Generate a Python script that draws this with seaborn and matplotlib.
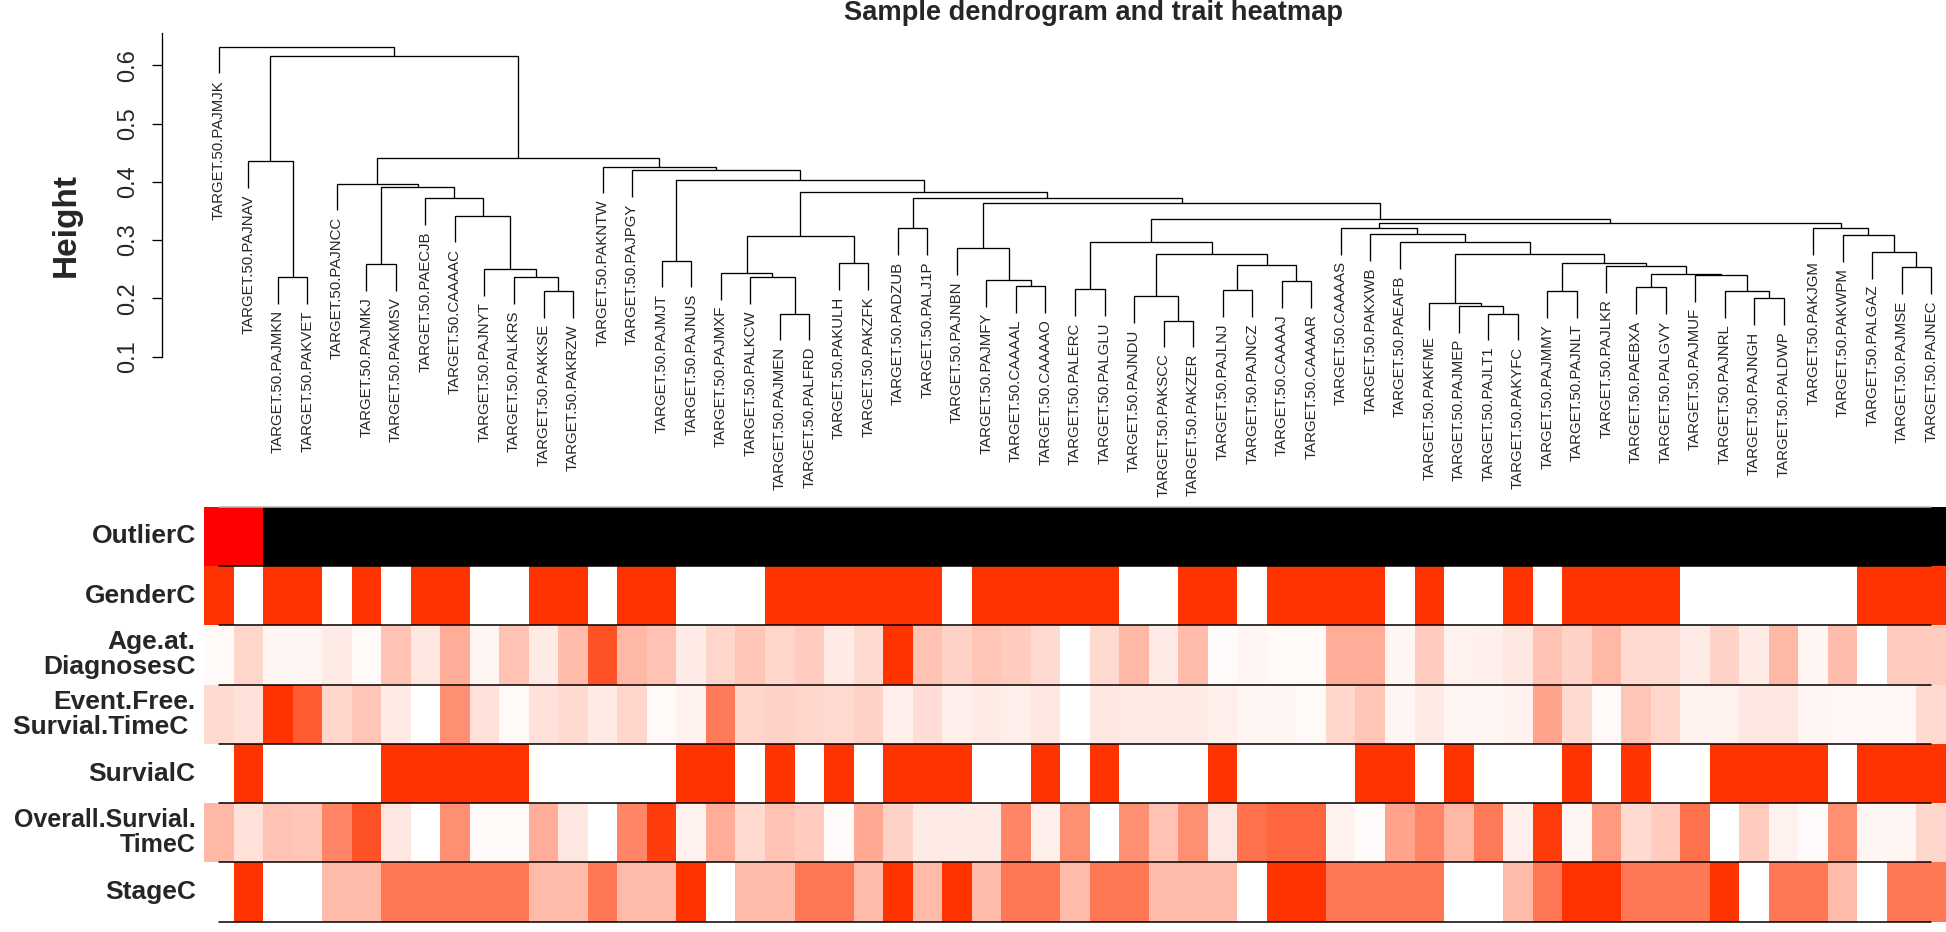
import numpy as np
import pandas as pd
import matplotlib
matplotlib.use("Agg")
import matplotlib.pyplot as plt
import seaborn as sns
from matplotlib.colors import LinearSegmentedColormap, ListedColormap

sns.set_theme(style="white")
plt.rcParams['font.family'] = ['Liberation Sans', 'DejaVu Sans']

# ---------------- data ----------------
prefix = "TARGET.50."
leaves = ["PAJMJK", "PAJNAV", "PAJMKN", "PAKVET", "PAJNCC", "PAJMKJ", "PAKMSV", "PAECJB",
          "CAAAAC", "PAJNYT", "PALKRS", "PAKKSE", "PAKRZW", "PAKNTW", "PAJPGY", "PAJMJT",
          "PAJNUS", "PAJMXF", "PALKCW", "PAJMEN", "PALFRD", "PAKULH", "PAKZFK", "PADZUB",
          "PALJ1P", "PAJNBN", "PAJMFY", "CAAAAL", "CAAAAO", "PALERC", "PALGLU", "PAJNDU",
          "PAKSCC", "PAKZER", "PAJLNJ", "PAJNCZ", "CAAAAJ", "CAAAAR", "CAAAAS", "PAKXWB",
          "PAEAFB", "PAKFME", "PAJMEP", "PAJLT1", "PAKYFC", "PAJMMY", "PAJNLT", "PAJLKR",
          "PAEBXA", "PALGVY", "PAJMUF", "PAJNRL", "PAJNGH", "PALDWP", "PAKJGM", "PAKWPM",
          "PALGAZ", "PAJMSE", "PAJNEC"]

# merges: (cluster name, left child, right child, merge height)
merges = [
    ("m1", "PAJMKN", "PAKVET", 0.237),
    ("mA", "PAJNAV", "m1", 0.436),
    ("kjsv", "PAJMKJ", "PAKMSV", 0.259),
    ("b6", "PAKKSE", "PAKRZW", 0.213),
    ("b5", "PALKRS", "b6", 0.236),
    ("b4", "PAJNYT", "b5", 0.250),
    ("b3", "CAAAAC", "b4", 0.342),
    ("b2", "PAECJB", "b3", 0.372),
    ("b1", "kjsv", "b2", 0.391),
    ("B", "PAJNCC", "b1", 0.397),
    ("jt", "PAJMJT", "PAJNUS", 0.265),
    ("enfrd", "PAJMEN", "PALFRD", 0.174),
    ("kcw", "PALKCW", "enfrd", 0.237),
    ("mxf", "PAJMXF", "kcw", 0.244),
    ("ulh", "PAKULH", "PAKZFK", 0.260),
    ("c3l", "mxf", "ulh", 0.307),
    ("dz", "PADZUB", "PALJ1P", 0.320),
    ("aal", "CAAAAL", "CAAAAO", 0.221),
    ("mfy", "PAJMFY", "aal", 0.232),
    ("c6", "PAJNBN", "mfy", 0.286),
    ("erc", "PALERC", "PALGLU", 0.216),
    ("scc", "PAKSCC", "PAKZER", 0.162),
    ("ndu", "PAJNDU", "scc", 0.204),
    ("lnj", "PAJLNJ", "PAJNCZ", 0.214),
    ("aaj", "CAAAAJ", "CAAAAR", 0.230),
    ("c10", "lnj", "aaj", 0.257),
    ("c9", "ndu", "c10", 0.276),
    ("c8", "erc", "c9", 0.296),
    ("lt1", "PAJLT1", "PAKYFC", 0.174),
    ("mep", "PAJMEP", "lt1", 0.187),
    ("c16", "PAKFME", "mep", 0.192),
    ("mmy", "PAJMMY", "PAJNLT", 0.213),
    ("bxa", "PAEBXA", "PALGVY", 0.219),
    ("ngh", "PAJNGH", "PALDWP", 0.200),
    ("c21", "PAJNRL", "ngh", 0.213),
    ("c20", "PAJMUF", "c21", 0.240),
    ("c19", "bxa", "c20", 0.242),
    ("c18", "PAJLKR", "c19", 0.256),
    ("c17", "mmy", "c18", 0.261),
    ("c15", "c16", "c17", 0.277),
    ("c14", "PAEAFB", "c15", 0.296),
    ("c13", "PAKXWB", "c14", 0.310),
    ("c12", "CAAAAS", "c13", 0.321),
    ("mse", "PAJMSE", "PAJNEC", 0.253),
    ("c24", "PALGAZ", "mse", 0.280),
    ("c23", "PAKWPM", "c24", 0.309),
    ("c22", "PAKJGM", "c23", 0.321),
    ("c11", "c12", "c22", 0.330),
    ("c7", "c8", "c11", 0.336),
    ("c5", "c6", "c7", 0.364),
    ("c4", "dz", "c5", 0.372),
    ("c3", "c3l", "c4", 0.383),
    ("c2", "jt", "c3", 0.403),
    ("c1", "PAJPGY", "c2", 0.420),
    ("C", "PAKNTW", "c1", 0.426),
    ("big", "B", "C", 0.441),
    ("top2", "mA", "big", 0.616),
    ("root", "PAJMJK", "top2", 0.632),
]

height_ticks = [0.1, 0.2, 0.3, 0.4, 0.5, 0.6]

outlier = [1, 1] + [0] * 57
gender = [1, 0, 1, 1, 0, 1, 0, 1, 1, 0, 0, 1, 1, 0, 1, 1, 0, 0, 0, 1, 1, 1, 1, 1, 1, 0, 1, 1, 1, 1,
          1, 0, 0, 1, 1, 0, 1, 1, 1, 1, 0, 1, 0, 0, 1, 0, 1, 1, 1, 1, 0, 0, 0, 0, 0, 0, 1, 1, 1]
age = [0.03, 0.2, 0.05, 0.05, 0.1, 0.03, 0.3, 0.12, 0.4, 0.05, 0.3, 0.1, 0.33, 0.85, 0.35, 0.3,
       0.1, 0.2, 0.28, 0.2, 0.25, 0.1, 0.18, 1.0, 0.3, 0.22, 0.28, 0.25, 0.18, 0.0, 0.18, 0.35,
       0.1, 0.33, 0.02, 0.05, 0.03, 0.03, 0.4, 0.4, 0.05, 0.25, 0.07, 0.08, 0.12, 0.3, 0.22, 0.35,
       0.18, 0.18, 0.1, 0.22, 0.1, 0.35, 0.05, 0.33, 0.0, 0.25, 0.25]
event_free = [0.18, 0.15, 1.0, 0.8, 0.2, 0.28, 0.1, 0.0, 0.55, 0.15, 0.03, 0.15, 0.18, 0.1, 0.2,
              0.03, 0.07, 0.65, 0.2, 0.22, 0.2, 0.18, 0.22, 0.08, 0.17, 0.08, 0.1, 0.08, 0.12, 0.0,
              0.12, 0.1, 0.1, 0.1, 0.08, 0.05, 0.05, 0.03, 0.2, 0.28, 0.05, 0.1, 0.05, 0.05, 0.07,
              0.45, 0.18, 0.03, 0.28, 0.2, 0.07, 0.07, 0.12, 0.12, 0.05, 0.04, 0.04, 0.04, 0.18]
survival = [0, 1, 0, 0, 0, 0, 1, 1, 1, 1, 1, 0, 0, 0, 0, 0, 1, 1, 0, 1, 0, 1, 0, 1, 1, 1, 0, 0, 1, 0,
            1, 0, 0, 0, 1, 0, 0, 0, 0, 1, 1, 0, 1, 0, 0, 0, 1, 0, 1, 0, 0, 1, 1, 1, 1, 0, 1, 1, 1]
overall = [0.35, 0.15, 0.3, 0.28, 0.6, 0.85, 0.12, 0.0, 0.55, 0.03, 0.03, 0.4, 0.12, 0.0, 0.6, 0.95,
           0.07, 0.4, 0.18, 0.3, 0.25, 0.02, 0.42, 0.22, 0.1, 0.1, 0.1, 0.6, 0.08, 0.55, 0.0, 0.55,
           0.3, 0.55, 0.12, 0.7, 0.75, 0.75, 0.07, 0.02, 0.45, 0.6, 0.35, 0.65, 0.08, 0.95, 0.05,
           0.5, 0.18, 0.25, 0.7, 0.0, 0.25, 0.07, 0.02, 0.55, 0.05, 0.05, 0.2]
stage = [1, 4, 1, 1, 2, 2, 3, 3, 3, 3, 3, 2, 2, 3, 2, 2, 4, 1, 2, 2, 3, 3, 2, 4, 2, 4, 2, 3, 3, 2,
         3, 3, 2, 2, 2, 1, 4, 4, 3, 3, 3, 3, 1, 1, 2, 3, 4, 4, 3, 3, 3, 4, 1, 3, 3, 2, 1, 3, 3]

row_labels = ["OutlierC", "GenderC", "Age.at.\nDiagnosesC", "Event.Free.\nSurvial.TimeC ",
              "SurvialC", "Overall.Survial.\nTimeC", "StageC"]

# ---------------- figure ----------------
W, H = 1946, 932
fig = plt.figure(figsize=(W / 100, H / 100), dpi=100)
n = len(leaves)

def fx(px):
    return px / W

def fy(py):
    return 1 - py / H

HM_L, HM_R = 204, 1946
# vertical calibration of the dendrogram (pixel -> height)
def h_at(py):
    return 0.6 - (py - 65.3) / 582.7

DEN_BOTTOM = 500
dax = fig.add_axes([fx(HM_L), fy(DEN_BOTTOM), fx(HM_R - HM_L), DEN_BOTTOM / H])
dax.set_xlim(0, n)
dax.set_ylim(h_at(DEN_BOTTOM), h_at(0))

hang = 0.046
gap = 0.011
pos = {name: i + 0.5 for i, name in enumerate(leaves)}
hgt = {}
for name, a, b, h in merges:
    xa, xb = pos[a], pos[b]
    ya = hgt.get(a, h - hang)
    yb = hgt.get(b, h - hang)
    dax.plot([xa, xa, xb, xb], [ya, h, h, yb], color="black", lw=0.95,
             solid_capstyle="butt", solid_joinstyle="miter")
    for child, y in ((a, ya), (b, yb)):
        if child not in hgt:
            dax.text(pos[child], y - gap, prefix + child, rotation=90, ha="center",
                     va="top", fontsize=10.8)
    pos[name] = (xa + xb) / 2
    hgt[name] = h

for s in ["top", "right", "bottom"]:
    dax.spines[s].set_visible(False)
dax.spines["left"].set_visible(True)
dax.spines["left"].set_color("black")
dax.spines["left"].set_linewidth(0.95)
dax.spines["left"].set_position(("outward", 30.2))
dax.spines["left"].set_bounds(0.1, 0.655)
dax.set_xticks([])
dax.set_yticks(height_ticks)
dax.set_yticklabels([f"{t:.1f}" for t in height_ticks], rotation=90, va="center")
dax.tick_params(axis="y", left=True, length=7.5, width=0.95, color="black",
                labelsize=17, pad=9)
dax.grid(False)

fig.text(fx(66.7), fy(225), "Height", rotation=90, ha="center", va="center",
         fontsize=24, fontweight="bold")
fig.text(fx(1094), fy(13), "Sample dendrogram and trait heatmap", ha="center",
         va="center", fontsize=19.6, fontweight="bold")

# ---------------- trait heatmap ----------------
stage_scaled = [(s - min(stage)) / (max(stage) - min(stage)) for s in stage]
traits = pd.DataFrame([outlier, gender, age, event_free, survival, overall, stage_scaled],
                      index=row_labels, columns=[prefix + l for l in leaves])

white_red = LinearSegmentedColormap.from_list("wr", ["#FFFFFF", "#FF3300"])
outlier_cmap = ListedColormap(["#000000", "#FF0000"])

ROW_TOP, ROW_H = 506.7, 59.29
nrows = len(row_labels)
for r, label in enumerate(row_labels):
    top = ROW_TOP + r * ROW_H
    ax = fig.add_axes([fx(HM_L), fy(top + ROW_H), fx(HM_R - HM_L), ROW_H / H])
    cmap = outlier_cmap if r == 0 else white_red
    sns.heatmap(traits.loc[[label]], ax=ax, cmap=cmap, vmin=0, vmax=1, cbar=False,
                xticklabels=False, yticklabels=True, linewidths=0)
    size = 18.0 if label.startswith("Overall") else 19.0
    ax.set_yticklabels([label], rotation=0, fontsize=size, fontweight="bold",
                       ha="right", va="center", linespacing=1.05)
    ax.tick_params(axis="y", left=False, length=0, pad=6)
    ax.set_xlabel("")
    ax.set_ylabel("")

# separator lines drawn on top of all colour rows
oax = fig.add_axes([fx(HM_L), fy(ROW_TOP + nrows * ROW_H), fx(HM_R - HM_L),
                    nrows * ROW_H / H])
oax.set_xlim(0, n)
oax.set_ylim(nrows, 0)
oax.axis("off")
oax.plot([0.5, n - 0.5], [0, 0], color="#b8b8b8", lw=1.1, clip_on=False)
for k in range(1, nrows + 1):
    oax.plot([0.5, n - 0.5], [k, k], color="black", lw=1.1, clip_on=False)

fig.savefig("out.png", dpi=100)
